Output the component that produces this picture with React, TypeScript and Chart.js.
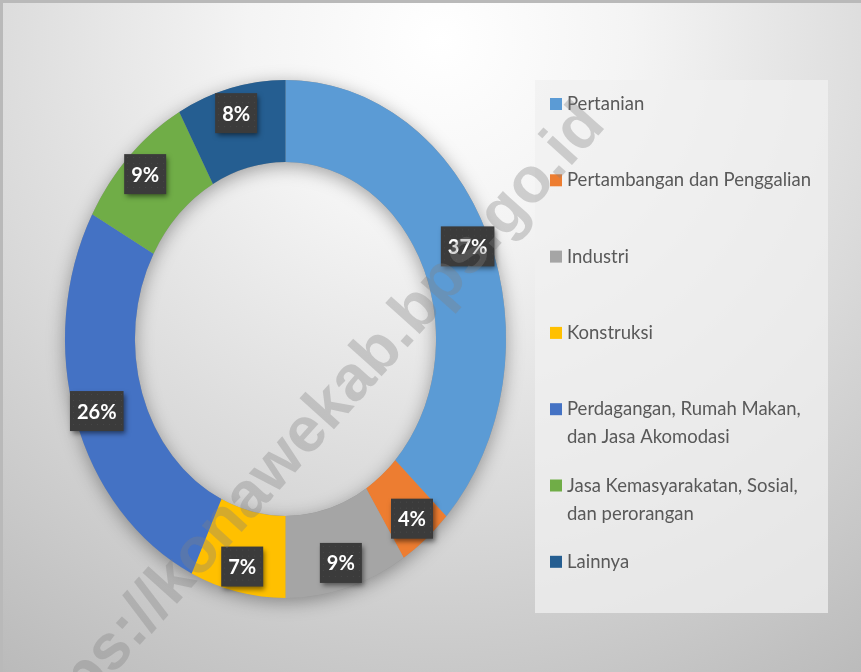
import { useEffect, useRef } from 'react';
import { Chart, registerables } from 'chart.js';

Chart.register(...registerables);

const categories: (string | string[])[] = [
  'Pertanian',
  'Pertambangan dan Penggalian',
  'Industri',
  'Konstruksi',
  ['Perdagangan, Rumah Makan,', 'dan Jasa Akomodasi'],
  ['Jasa Kemasyarakatan, Sosial,', 'dan perorangan'],
  'Lainnya',
];
const shares = [37, 4, 9, 7, 26, 9, 8];
const colors = ['#5B9BD5', '#ED7D31', '#A5A5A5', '#FFC000', '#4472C4', '#70AD47', '#255E91'];
const watermark = 'https://konawekab.bps.go.id';

const SY = 1.175;
const W = 861;
const H = 672;

export default function App() {
  const ref = useRef<HTMLCanvasElement>(null);

  useEffect(() => {
    const canvas = ref.current!;

    const background = {
      id: 'bg',
      beforeDraw(chart: any) {
        const ctx = chart.ctx as CanvasRenderingContext2D;
        ctx.save();
        ctx.fillStyle = '#b9b9b9';
        ctx.fillRect(0, 0, W, H);
        const g = ctx.createRadialGradient(440, 40, 0, 440, 40, 770);
        g.addColorStop(0, '#ffffff');
        g.addColorStop(0.25, '#f4f4f4');
        g.addColorStop(0.6, '#dadada');
        g.addColorStop(1, '#bababa');
        ctx.fillStyle = g;
        ctx.fillRect(3, 3, W - 3, H - 3);
        ctx.restore();
      },
    };

    const stretch = {
      id: 'stretch',
      beforeDatasetsDraw(chart: any) {
        const a = chart.getDatasetMeta(0).data[0] as any;
        const ctx = chart.ctx as CanvasRenderingContext2D;
        ctx.save();
        ctx.translate(a.x, a.y);
        ctx.scale(1, SY);
        ctx.translate(-a.x, -a.y);
        ctx.save();
        ctx.beginPath();
        ctx.arc(a.x, a.y, a.outerRadius, 0, Math.PI * 2);
        ctx.arc(a.x, a.y, a.innerRadius, 0, Math.PI * 2, true);
        ctx.shadowColor = 'rgba(0,0,0,0.35)';
        ctx.shadowBlur = 18;
        ctx.shadowOffsetY = 4;
        ctx.fillStyle = '#999999';
        ctx.fill();
        ctx.restore();
      },
      afterDatasetsDraw(chart: any) {
        const ctx = chart.ctx as CanvasRenderingContext2D;
        ctx.restore();
        // data labels
        const data = chart.data.datasets[0].data as number[];
        const total = data.reduce((s, v) => s + v, 0);
        const meta = chart.getDatasetMeta(0);
        ctx.save();
        ctx.font = 'bold 20px Lato';
        ctx.textAlign = 'center';
        ctx.textBaseline = 'middle';
        meta.data.forEach((el: any, i: number) => {
          const mid = (el.startAngle + el.endAngle) / 2;
          const r = el.outerRadius * 0.9;
          const x = el.x + Math.cos(mid) * r;
          const y = el.y + Math.sin(mid) * r * SY;
          const txt = Math.round((data[i] / total) * 100) + '%';
          const tw = ctx.measureText(txt).width;
          const bw = tw + 14;
          const bh = 40;
          const bx = x - bw / 2;
          const by = y - bh / 2;
          ctx.save();
          ctx.shadowColor = 'rgba(0,0,0,0.5)';
          ctx.shadowBlur = 5;
          ctx.shadowOffsetX = 2;
          ctx.shadowOffsetY = 3;
          ctx.fillStyle = '#3b3b3b';
          ctx.fillRect(bx, by, bw, bh);
          ctx.restore();
          ctx.fillStyle = 'rgba(255,255,255,0.07)';
          for (let dx = 3; dx < bw - 1; dx += 6) {
            for (let dy = 3; dy < bh - 1; dy += 6) {
              ctx.fillRect(bx + dx, by + dy, 1, 1);
            }
          }
          ctx.fillStyle = '#ffffff';
          ctx.fillText(txt, x, y + 1);
        });
        ctx.restore();
      },
    };

    const legendAndMark = {
      id: 'legendMark',
      afterDraw(chart: any) {
        const ctx = chart.ctx as CanvasRenderingContext2D;
        ctx.save();
        // legend box
        ctx.fillStyle = 'rgba(240,240,240,0.75)';
        ctx.fillRect(535, 80, 293, 533);
        const labels = chart.data.labels as (string | string[])[];
        const bg = chart.data.datasets[0].backgroundColor as string[];
        ctx.font = '18.5px Lato';
        ctx.textAlign = 'left';
        ctx.textBaseline = 'alphabetic';
        labels.forEach((lab, i) => {
          const lines = Array.isArray(lab) ? lab : [lab];
          const y0 = 110 + i * 76.3;
          ctx.fillStyle = bg[i];
          ctx.fillRect(550, y0 - 12, 12, 12);
          ctx.fillStyle = '#595959';
          lines.forEach((ln, j) => ctx.fillText(ln, 567, y0 + j * 28));
        });
        // watermark
        ctx.translate(607, 126);
        ctx.rotate((-48 * Math.PI) / 180);
        ctx.font = 'bold 64px "Liberation Sans", Arial, sans-serif';
        ctx.textAlign = 'right';
        ctx.fillStyle = 'rgba(128,128,128,0.34)';
        ctx.fillText(watermark, 0, 0);
        ctx.restore();
      },
    };

    const chart = new Chart(canvas, {
      type: 'doughnut',
      data: {
        labels: categories as any,
        datasets: [
          {
            data: shares,
            backgroundColor: colors,
            borderWidth: 0,
            clip: false as any,
          },
        ],
      },
      options: {
        responsive: false,
        animation: false,
        cutout: '68.3%',
        layout: { padding: { left: 65, right: 355, top: 118.5, bottom: 112.5 } },
        plugins: {
          legend: { display: false },
          tooltip: { enabled: false },
        },
      },
      plugins: [background, stretch, legendAndMark],
    });
    return () => chart.destroy();
  }, []);

  return (
    <div style={{ position: 'absolute', left: 0, top: 0, width: W, height: H }}>
      <canvas ref={ref} width={W} height={H} style={{ display: 'block', width: W, height: H }} />
    </div>
  );
}
